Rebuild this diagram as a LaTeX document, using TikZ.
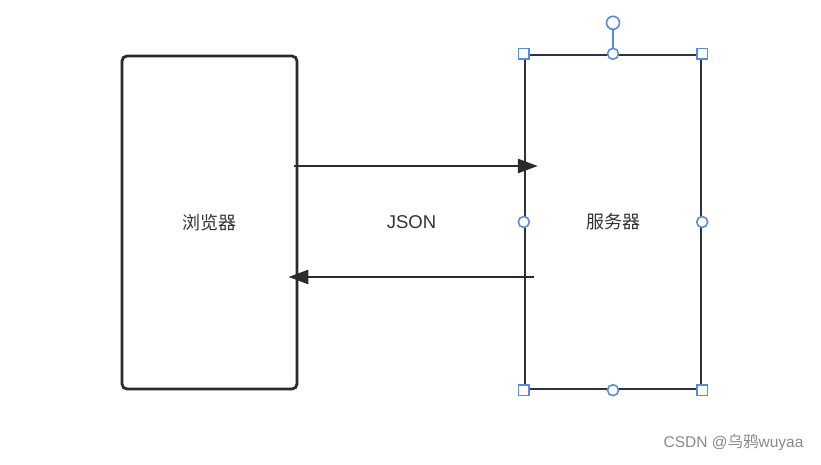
\documentclass[tikz,border=0pt]{standalone}
\usepackage{fontspec}
\setmainfont{Noto Sans CJK SC}
\newfontfamily\latinfont{Liberation Sans}
\usetikzlibrary{arrows.meta,calc}

\definecolor{ink}{HTML}{2B2B2B}
\definecolor{frame}{HTML}{2A3347}
\definecolor{handle}{HTML}{5B8BD6}
\definecolor{txt}{HTML}{333333}
\definecolor{mark}{HTML}{8A8A8A}

\tikzset{
  box/.style={draw=ink, line width=2.8pt, rounded corners=5pt,
              minimum width=175pt, minimum height=333pt, inner sep=0pt},
  selbox/.style={draw=frame, line width=2.4pt,
                 minimum width=176pt, minimum height=334pt, inner sep=0pt},
  label/.style={text=txt, font=\fontsize{18pt}{20pt}\selectfont},
  flow/.style={draw=ink, line width=2.7pt,
               -{Triangle[length=20pt,width=14pt]}},
  sqhandle/.style={draw=handle, fill=white, line width=1.6pt,
                   minimum size=10.5pt, inner sep=0pt},
  dothandle/.style={circle, draw=handle, fill=white, line width=1.6pt,
                    minimum size=11pt, inner sep=0pt},
}

\begin{document}
\begin{tikzpicture}[x=1pt,y=1pt]
  \useasboundingbox[fill=white] (0,0) rectangle (821,465);

  % the two parties
  \node[box] (browser) at (209.5,242.5) {};
  \node[selbox] (server) at (613,243) {};

  \node[label] (browsertext) at (browser.center) {浏览器};
  \node[label] (servertext) at (server.center) {服务器};
  \node[label, font=\latinfont\fontsize{18.5pt}{20pt}\selectfont] (json) at (411.5,243) {JSON};

  % request and response
  \draw[flow] ([shift={(-4pt,56.5pt)}]browser.east) -- ([shift={(14pt,56pt)}]server.west);
  \draw[flow] ([shift={(10pt,-55pt)}]server.west) -- ([shift={(-10pt,-54.5pt)}]browser.east);

  % selection handles of the server box
  \node[dothandle, minimum size=13pt] (rot) at ([yshift=31pt]server.north) {};
  \draw[handle, line width=1.6pt] (rot.south) -- (server.north);
  \foreach \a in {north west, north east, south west, south east}
    \node[sqhandle] at (server.\a) {};
  \foreach \a in {north, south, west, east}
    \node[dothandle] at (server.\a) {};

  % watermark
  \node[text=mark, anchor=east, font=\fontsize{15.5pt}{17pt}\selectfont]
    (wm) at (807,22) {{\latinfont CSDN @}乌鸦{\latinfont wuyaa}};
\end{tikzpicture}
\end{document}
